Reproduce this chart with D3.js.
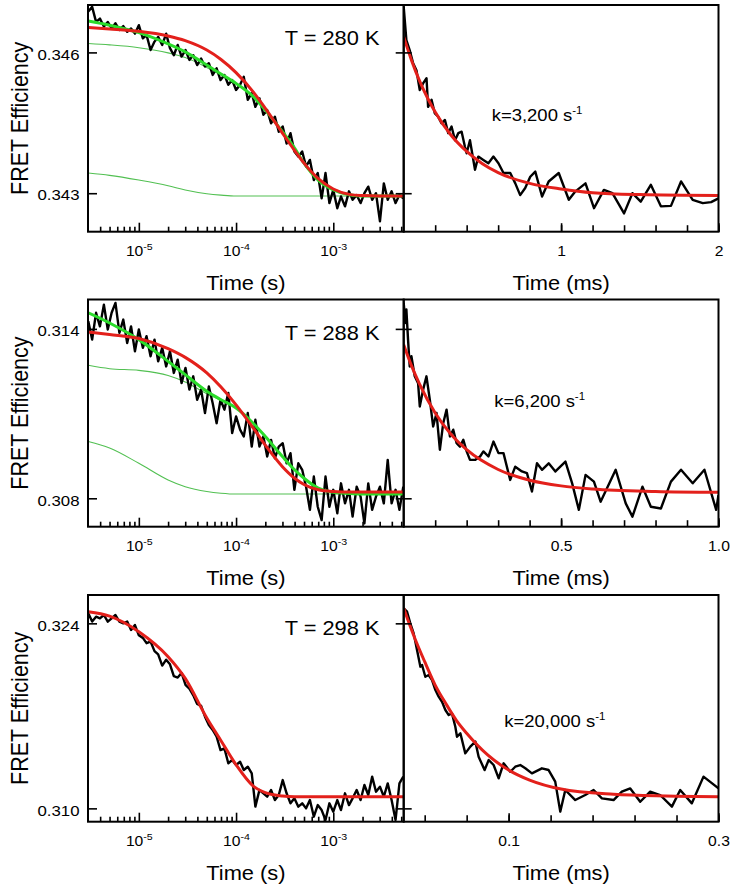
<!DOCTYPE html>
<html><head><meta charset="utf-8">
<script src="https://cdn.jsdelivr.net/npm/d3@7"></script>
<style>
html,body{margin:0;padding:0;background:#fff;}
svg{display:block;}
</style></head><body>
<svg id="chart" width="734" height="891"></svg>
<script>
// ---------------- DATA ----------------
// sampling times of the measured traces (s), left (log) panels
const timeS = [3.02e-6,3.31e-6,3.63e-6,3.98e-6,4.37e-6,4.79e-6,5.25e-6,5.75e-6,6.31e-6,6.92e-6,7.59e-6,8.32e-6,9.12e-6,
1.00e-5,1.10e-5,1.20e-5,1.32e-5,1.45e-5,1.58e-5,1.74e-5,1.91e-5,2.09e-5,2.29e-5,2.51e-5,2.75e-5,3.02e-5,3.31e-5,3.63e-5,3.98e-5,4.37e-5,4.79e-5,5.25e-5,5.75e-5,6.31e-5,6.92e-5,7.59e-5,8.32e-5,9.12e-5,
1.00e-4,1.10e-4,1.20e-4,1.32e-4,1.45e-4,1.58e-4,1.74e-4,1.91e-4,2.09e-4,2.29e-4,2.51e-4,2.75e-4,3.02e-4,3.31e-4,3.63e-4,3.98e-4,4.37e-4,4.79e-4,5.25e-4,5.75e-4,6.31e-4,6.92e-4,7.59e-4,8.32e-4,9.12e-4,
1.00e-3,1.10e-3,1.20e-3,1.32e-3,1.45e-3,1.58e-3,1.74e-3,1.91e-3,2.09e-3,2.29e-3,2.51e-3,2.75e-3,3.02e-3,3.31e-3,3.63e-3,3.98e-3,4.37e-3,4.79e-3,5.25e-3];

const trace280 = [0.34687,0.34697,0.34665,0.34672,0.34655,0.34665,0.34651,0.34662,0.34648,0.34656,
0.34644,0.34651,0.34640,0.34658,0.34630,0.34637,0.34605,0.34623,0.34633,0.34616,
0.34640,0.34609,0.34594,0.34616,0.34591,0.34605,0.34584,0.34594,0.34573,0.34587,
0.34570,0.34577,0.34552,0.34566,0.34541,0.34552,0.34531,0.34541,0.34520,0.34531,
0.34548,0.34499,0.34513,0.34484,0.34502,0.34467,0.34477,0.34449,0.34463,0.34431,
0.34442,0.34406,0.34428,0.34389,0.34378,0.34389,0.34357,0.34371,0.34328,0.34343,
0.34289,0.34343,0.34279,0.34307,0.34268,0.34293,0.34272,0.34304,0.34286,0.34296,
0.34279,0.34300,0.34314,0.34286,0.34300,0.34240,0.34321,0.34286,0.34304,0.34279,
0.34296,0.34289];

const trace288 = [0.31427,0.31362,0.31457,0.31409,0.31486,0.31398,0.31457,0.31492,0.31386,0.31433,
0.31350,0.31409,0.31321,0.31398,0.31333,0.31374,0.31303,0.31362,0.31285,0.31333,
0.31267,0.31321,0.31244,0.31291,0.31208,0.31262,0.31185,0.31232,0.31149,0.31185,
0.31102,0.31196,0.31137,0.31066,0.31149,0.31114,0.31173,0.31031,0.31090,0.31043,
0.31019,0.31102,0.30983,0.31078,0.30983,0.31019,0.30948,0.31007,0.30942,0.30983,
0.30995,0.30924,0.30960,0.30830,0.30924,0.30901,0.30841,0.30759,0.30877,0.30770,
0.30723,0.30877,0.30770,0.30830,0.30747,0.30853,0.30782,0.30830,0.30735,0.30841,
0.30806,0.30711,0.30853,0.30759,0.30806,0.30841,0.30782,0.30936,0.30782,0.30830,
0.30759,0.30841];

const trace298 = [0.32476,0.32413,0.32450,0.32438,0.32463,0.32413,0.32438,0.32463,0.32413,0.32400,
0.32413,0.32350,0.32387,0.32310,0.32290,0.32250,0.32262,0.32190,0.32165,0.32080,
0.32125,0.32090,0.32000,0.31990,0.32025,0.31935,0.31905,0.31855,0.31790,0.31775,
0.31694,0.31631,0.31593,0.31542,0.31441,0.31454,0.31341,0.31366,0.31328,0.31353,
0.31290,0.31315,0.31265,0.31013,0.31139,0.31114,0.31088,0.31139,0.31063,0.31101,
0.31214,0.31114,0.31038,0.31076,0.31013,0.31038,0.31000,0.31063,0.30937,0.31025,
0.30987,0.30912,0.31038,0.30975,0.31063,0.30987,0.31114,0.31025,0.31076,0.31139,
0.31063,0.31177,0.31101,0.31240,0.31126,0.31164,0.31088,0.31189,0.31063,0.30912,
0.31189,0.31240];

// fitted curves (read at these times, s)
const fitTimeS = [3.02e-6,5e-6,1e-5,2e-5,3e-5,5e-5,7e-5,1e-4,1.5e-4,2e-4,3e-4,4e-4,5e-4,7e-4,1e-3,1.5e-3,2e-3,3e-3,5.25e-3];
const fitRed280   = [0.34653,0.34650,0.34645,0.34635,0.34625,0.34605,0.34585,0.34557,0.34516,0.34481,0.34428,0.34391,0.34364,0.34331,0.34309,0.34297,0.34295,0.34294,0.34294];
const fitGreen280 = [0.34667,0.34658,0.34642,0.34618,0.34601,0.34573,0.34554,0.34534,0.34506,0.34477,0.34431,0.34396,0.34364,0.34328,0.34307,0.34296,0.34294,0.34294,0.34294];
const slowComp280 = [0.34619,0.34616,0.34610,0.34599,0.34589,0.34568,0.34552,0.34534,0.34506,0.34477,0.34431,0.34396,0.34364,0.34328,0.34307,0.34296,0.34294,0.34294,0.34294];
const fastComp280 = [0.34343,0.34338,0.34328,0.34316,0.34307,0.34299,0.34296,0.34294,0.34294,0.34294,0.34294,0.34294,0.34294,0.34294,0.34294,0.34294,0.34294,0.34294,0.34294];
const fitRed288   = [0.31389,0.31380,0.31366,0.31330,0.31299,0.31244,0.31194,0.31131,0.31049,0.30988,0.30912,0.30871,0.30849,0.30830,0.30824,0.30822,0.30822,0.30822,0.30822];
const fitGreen288 = [0.31457,0.31421,0.31362,0.31285,0.31238,0.31179,0.31149,0.31120,0.31066,0.31019,0.30948,0.30901,0.30871,0.30836,0.30821,0.30817,0.30815,0.30815,0.30815];
const slowComp288 = [0.31271,0.31259,0.31253,0.31235,0.31212,0.31170,0.31147,0.31120,0.31066,0.31019,0.30948,0.30901,0.30871,0.30836,0.30821,0.30817,0.30815,0.30815,0.30815];
const fastComp288 = [0.31001,0.30978,0.30924,0.30865,0.30841,0.30824,0.30818,0.30815,0.30815,0.30815,0.30815,0.30815,0.30815,0.30815,0.30815,0.30815,0.30815,0.30815,0.30815];
const fitRed298   = [0.32488,0.32455,0.32337,0.32148,0.31984,0.31684,0.31512,0.31330,0.31169,0.31119,0.31093,0.31088,0.31088,0.31088,0.31088,0.31088,0.31088,0.31088,0.31088];

// right (linear, ms) panels
const linT280 = [0,0.017,0.038,0.060,0.081,0.102,0.123,0.145,0.155,0.177,0.198,0.219,0.240,0.262,0.283,0.304,0.326,0.347,0.368,0.389,0.400,0.421,0.453,0.474,0.506,0.538,0.570,0.602,0.634,0.677,0.709,0.740,0.772,0.804,0.836,0.879,0.921,0.985,1.049,1.091,1.155,1.209,1.272,1.326,1.400,1.453,1.506,1.570,1.634,1.698,1.762,1.836,1.900,1.953,2.000];
const linE280 = [0.34697,0.34626,0.34605,0.34577,0.34562,0.34520,0.34534,0.34545,0.34484,0.34499,0.34470,0.34463,0.34449,0.34456,0.34428,0.34442,0.34413,0.34428,0.34431,0.34399,0.34385,0.34413,0.34350,0.34378,0.34371,0.34364,0.34378,0.34364,0.34343,0.34343,0.34321,0.34296,0.34311,0.34335,0.34346,0.34293,0.34325,0.34343,0.34286,0.34304,0.34321,0.34268,0.34307,0.34300,0.34257,0.34300,0.34282,0.34318,0.34272,0.34273,0.34325,0.34286,0.34279,0.34281,0.34289];
const linFitT280 = [0,0.05,0.1,0.15,0.2,0.3,0.4,0.5,0.6,0.8,1.0,1.2,1.5,2.0];
const linFit280  = [0.34633,0.34583,0.34540,0.34504,0.34473,0.34424,0.34389,0.34363,0.34344,0.34321,0.34309,0.34301,0.34297,0.34295];

const linT288 = [0,0.0053,0.0085,0.0138,0.0191,0.0245,0.0351,0.0457,0.0511,0.0617,0.0723,0.0830,0.0936,0.1043,0.1149,0.1255,0.1362,0.1468,0.1574,0.1681,0.1787,0.1894,0.2000,0.2106,0.2266,0.2426,0.2532,0.2691,0.2851,0.3011,0.3170,0.3383,0.3543,0.3755,0.3915,0.4074,0.4234,0.4394,0.4606,0.4819,0.5138,0.5351,0.5564,0.5777,0.6043,0.6255,0.6734,0.7053,0.7266,0.7585,0.7851,0.8170,0.8489,0.8809,0.9181,0.9553,0.9926,1.0];
const linE288 = [0.31492,0.31421,0.31469,0.31362,0.31267,0.31303,0.31232,0.31208,0.31125,0.31185,0.31232,0.31149,0.31054,0.31102,0.30972,0.31066,0.31114,0.31019,0.31043,0.30995,0.30983,0.31007,0.30966,0.30936,0.30936,0.30948,0.30966,0.30948,0.31001,0.30960,0.30960,0.30865,0.30912,0.30895,0.30889,0.30824,0.30924,0.30901,0.30924,0.30895,0.30930,0.30853,0.30759,0.30883,0.30859,0.30788,0.30901,0.30782,0.30735,0.30841,0.30770,0.30764,0.30859,0.30901,0.30853,0.30901,0.30759,0.30812];
const linFitT288 = [0,0.025,0.05,0.1,0.15,0.2,0.3,0.4,0.5,0.6,0.8,1.0];
const linFit288  = [0.31344,0.31269,0.31205,0.31102,0.31027,0.30972,0.30902,0.30864,0.30844,0.30833,0.30824,0.30821];

const linT298 = [0,0.0032,0.0063,0.0095,0.0127,0.0159,0.0175,0.0206,0.0238,0.0270,0.0302,0.0333,0.0365,0.0397,0.0429,0.0460,0.0492,0.0508,0.0540,0.0587,0.0635,0.0683,0.0714,0.0771,0.0810,0.0857,0.0905,0.0952,0.1016,0.1063,0.1111,0.1159,0.1222,0.1317,0.1381,0.1444,0.1492,0.1540,0.1635,0.1730,0.1810,0.1889,0.2000,0.2079,0.2159,0.2254,0.2349,0.2444,0.2556,0.2635,0.2746,0.2857,0.3000];
const linE298 = [0.32514,0.32488,0.32400,0.32324,0.32198,0.32072,0.32085,0.31996,0.32009,0.31971,0.31895,0.31845,0.31807,0.31744,0.31706,0.31719,0.31618,0.31542,0.31568,0.31416,0.31467,0.31505,0.31391,0.31290,0.31366,0.31328,0.31227,0.31341,0.31277,0.31315,0.31328,0.31303,0.31265,0.31303,0.31290,0.31202,0.30975,0.31139,0.31063,0.31101,0.31139,0.31076,0.31063,0.31126,0.31151,0.31050,0.31126,0.31101,0.31013,0.31139,0.31038,0.31240,0.31151];
const linFitT298 = [0,0.01,0.02,0.03,0.04,0.05,0.06,0.08,0.1,0.12,0.15,0.2,0.25,0.3];
const linFit298  = [0.32514,0.32299,0.32110,0.31933,0.31795,0.31668,0.31568,0.31404,0.31290,0.31214,0.31146,0.31106,0.31093,0.31088];

// axes
const temperatures = ["T = 280 K", "T = 288 K", "T = 298 K"];
const rateLabels = ["k=3,200 s", "k=6,200 s", "k=20,000 s"];
const yTicks = [[0.343, 0.346], [0.308, 0.314], [0.310, 0.324]];
const yDomains = [[0.34218, 0.34701], [0.306994, 0.315041], [0.308991, 0.326144]];
const logDomain = [3e-6, 5.3e-3];
const logMajorTicks = [1e-5, 1e-4, 1e-3];
const linMax = [2, 1, 0.3];
const linTicks = [[0.2,0.4,0.6,0.8,1.0,1.2,1.4,1.6,1.8,2.0],[0.1,0.2,0.3,0.4,0.5,0.6,0.7,0.8,0.9,1.0],[0.02,0.06,0.10,0.14,0.18,0.22,0.26,0.30]];
const linLabelTicks = [[1, 2], [0.5, 1.0], [0.1, 0.3]];
const linLabelFormat = ["d", ".1f", ".1f"];

// ---------------- DRAW ----------------
const FONT = '"Liberation Sans", Arial, Helvetica, sans-serif';
const SX = 1.12;
const RED = "#e3201b", GREEN = "#2bdc2b", THIN = "#52c052";
const svg = d3.select("#chart").attr("font-family", FONT);

const L0 = 88, MID = 403.7, R1 = 718.5;
const layout = [{top:5, bottom:231.7, kY:121, kX:491.7},
                {top:299.5, bottom:526.7, kY:407, kX:494.3},
                {top:595, bottom:821.7, kY:727, kX:504.3}];

const rowsData = [
  {trace:trace280, red:fitRed280, green:fitGreen280, slow:slowComp280, fast:fastComp280, lt:linT280, le:linE280, lft:linFitT280, lf:linFit280},
  {trace:trace288, red:fitRed288, green:fitGreen288, slow:slowComp288, fast:fastComp288, lt:linT288, le:linE288, lft:linFitT288, lf:linFit288},
  {trace:trace298, red:fitRed298, green:null, slow:null, fast:null, lt:linT298, le:linE298, lft:linFitT298, lf:linFit298}
];

function addText(parent, x, y, main, sup, size, anchor, rotate) {
  const t = parent.append("text")
    .attr("transform", `translate(${x},${y}) scale(${SX},1)` + (rotate ? " rotate(-90)" : ""))
    .attr("text-anchor", anchor).attr("font-size", size).attr("fill", "#000");
  t.append("tspan").text(main);
  if (sup) t.append("tspan").attr("font-size", size * 0.62).attr("dy", -size * 0.42).text(sup);
  return t;
}

const defs = svg.append("defs");

rowsData.forEach((rd, r) => {
  const lay = layout[r];
  const y = d3.scaleLinear().domain(yDomains[r]).range([lay.bottom, lay.top]);
  const xL = d3.scaleLog().domain(logDomain).range([L0, MID]);
  const xR = d3.scaleLinear().domain([0, linMax[r]]).range([MID, R1]);

  defs.append("clipPath").attr("id", "cl" + r).append("rect")
    .attr("x", L0).attr("y", lay.top).attr("width", MID - L0).attr("height", lay.bottom - lay.top);
  defs.append("clipPath").attr("id", "cr" + r).append("rect")
    .attr("x", MID).attr("y", lay.top).attr("width", R1 - MID).attr("height", lay.bottom - lay.top);

  // ---- left (log) panel ----
  const gl = svg.append("g").attr("clip-path", `url(#cl${r})`);
  const lineLog = d3.line().x(d => xL(d[0])).y(d => y(d[1]));
  const smoothLog = d3.line().x(d => xL(d[0])).y(d => y(d[1])).curve(d3.curveMonotoneX);
  const zipFit = arr => fitTimeS.map((t, i) => [t, arr[i]]);
  if (rd.slow) {
    gl.append("path").attr("d", smoothLog(zipFit(rd.slow))).attr("fill","none").attr("stroke",THIN).attr("stroke-width",1.1);
    gl.append("path").attr("d", smoothLog(zipFit(rd.fast))).attr("fill","none").attr("stroke",THIN).attr("stroke-width",1.1);
  }
  gl.append("path").attr("d", lineLog(timeS.map((t, i) => [t, rd.trace[i]])))
    .attr("fill","none").attr("stroke","#000").attr("stroke-width",2.4).attr("stroke-linejoin","round");
  if (rd.green) {
    gl.append("path").attr("d", smoothLog(zipFit(rd.green))).attr("fill","none").attr("stroke",GREEN).attr("stroke-width",3);
  }
  gl.append("path").attr("d", smoothLog(zipFit(rd.red))).attr("fill","none").attr("stroke",RED).attr("stroke-width",3);

  // ---- right (linear) panel ----
  const gr = svg.append("g").attr("clip-path", `url(#cr${r})`);
  const lineLin = d3.line().x(d => xR(d[0])).y(d => y(d[1]));
  const smoothLin = d3.line().x(d => xR(d[0])).y(d => y(d[1])).curve(d3.curveMonotoneX);
  gr.append("path").attr("d", lineLin(rd.lt.map((t, i) => [t, rd.le[i]])))
    .attr("fill","none").attr("stroke","#000").attr("stroke-width",2.4).attr("stroke-linejoin","round");
  gr.append("path").attr("d", smoothLin(rd.lft.map((t, i) => [t, rd.lf[i]])))
    .attr("fill","none").attr("stroke",RED).attr("stroke-width",3);

  // ---- frames ----
  svg.append("rect").attr("x", L0).attr("y", lay.top).attr("width", MID - L0).attr("height", lay.bottom - lay.top)
    .attr("fill","none").attr("stroke","#000").attr("stroke-width",2);
  svg.append("rect").attr("x", MID).attr("y", lay.top).attr("width", R1 - MID).attr("height", lay.bottom - lay.top)
    .attr("fill","none").attr("stroke","#000").attr("stroke-width",2);

  const styleAxis = g => {
    g.select(".domain").remove();
    g.attr("font-family", FONT);
    g.selectAll(".tick line").attr("stroke","#000").attr("stroke-width",1.6);
  };

  // y axis left
  const gy = svg.append("g").attr("transform", `translate(${L0},0)`)
    .call(d3.axisLeft(y).tickValues(yTicks[r]).tickSize(-9).tickPadding(7.6).tickFormat(d3.format(".3f")));
  styleAxis(gy);
  gy.attr("font-size", 15);
  gy.selectAll(".tick text").attr("dy", "0.45em").attr("transform", `scale(${SX},1)`).attr("fill","#000");

  // inner y ticks at separator
  const gy2 = svg.append("g").attr("transform", `translate(${MID},0)`)
    .call(d3.axisLeft(y).tickValues(yTicks[r]).tickSize(8).tickFormat(""));
  styleAxis(gy2);
  const gy3 = svg.append("g").attr("transform", `translate(${MID},0)`)
    .call(d3.axisRight(y).tickValues(yTicks[r]).tickSize(8).tickFormat(""));
  styleAxis(gy3);

  // log x axis: minor
  const minor = xL.ticks().filter(t => t > 3.05e-6 && t < 5.2e-3 && !logMajorTicks.some(m => Math.abs(m - t) / m < 1e-6));
  const gxm = svg.append("g").attr("transform", `translate(0,${lay.bottom})`)
    .call(d3.axisBottom(xL).tickValues(minor).tickSize(-5).tickFormat(""));
  styleAxis(gxm);
  const gxM = svg.append("g").attr("transform", `translate(0,${lay.bottom})`)
    .call(d3.axisBottom(xL).tickValues(logMajorTicks).tickSize(-9).tickFormat(""));
  styleAxis(gxM);
  gxM.attr("font-size", 14);
  gxM.selectAll(".tick text").each(function(d) {
    const t = d3.select(this);
    t.attr("y", 24.5).attr("dy", 0).attr("fill","#000").attr("transform", `scale(${SX},1)`);
    t.append("tspan").text("10");
    t.append("tspan").attr("font-size", 9.5).attr("dy", -6).text(String(Math.round(Math.log10(d))));
  });

  // linear x axis
  const gxr = svg.append("g").attr("transform", `translate(0,${lay.bottom})`)
    .call(d3.axisBottom(xR).tickValues(linTicks[r]).tickSize(-6.5).tickFormat(""));
  styleAxis(gxr);
  const gxr2 = svg.append("g").attr("transform", `translate(0,${lay.bottom})`)
    .call(d3.axisBottom(xR).tickValues(linLabelTicks[r]).tickSize(-8.5).tickFormat(d3.format(linLabelFormat[r])));
  styleAxis(gxr2);
  gxr2.attr("font-size", 14);
  gxr2.selectAll(".tick text").attr("y", 24.5).attr("dy", 0).attr("fill","#000").attr("transform", `scale(${SX},1)`);

  // titles
  addText(svg, (L0 + MID) / 2, lay.bottom + 58.5, "Time (s)", null, 19.5, "middle");
  addText(svg, (MID + R1) / 2, lay.bottom + 58.5, "Time (ms)", null, 19.5, "middle");
  addText(svg, 28, (lay.top + lay.bottom) / 2, "FRET Efficiency", null, 21.5, "middle", true);
  addText(svg, 379.5, lay.top + 40, temperatures[r], null, 19.5, "end");
  addText(svg, lay.kX, lay.kY, rateLabels[r], "-1", 16.5, "start");
});
</script>
</body></html>
